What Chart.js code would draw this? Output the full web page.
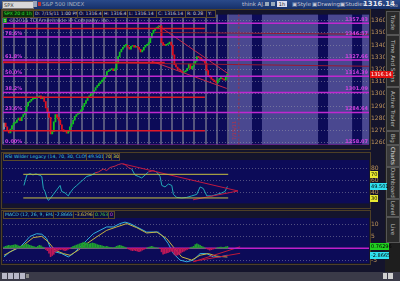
<!DOCTYPE html>
<html><head><meta charset="utf-8">
<script src="https://cdn.jsdelivr.net/npm/chart.js@4"></script>
<style>
html,body{margin:0;padding:0;background:#14142c;width:400px;height:281px;overflow:hidden;font-family:"DejaVu Sans",sans-serif;}
#wrap{position:relative;width:400px;height:281px;}
.a{position:absolute;white-space:nowrap;}
canvas{position:absolute;left:0;}
.tb{font-size:5.5px;line-height:7px;color:#c8c8d8;}
.box{position:absolute;top:10px;height:6px;border:1px solid #5a4a2a;background:#0c0c40;font-size:4.6px;line-height:6px;color:#d0d0d0;padding:0 1px;box-sizing:content-box;white-space:nowrap;overflow:hidden;}
.tab{position:absolute;left:386px;width:12px;background:#2a2a2a;border:1px solid #555;color:#bdbdbd;font-size:5.5px;writing-mode:vertical-rl;text-align:center;line-height:12px;overflow:hidden;}
.frame{position:absolute;border:1px solid #4e3f26;box-sizing:border-box;}
.hdr{position:absolute;height:6px;border:1px solid #5a4a2a;background:#0c0c40;font-size:4.6px;line-height:6px;padding:0 1px;white-space:nowrap;overflow:hidden;}
</style></head><body><div id="wrap">
<!-- top toolbar -->
<div class="a" style="left:0;top:0;width:400px;height:9px;background:linear-gradient(#2a4a8a,#16306a);"></div>
<div class="a" style="left:2px;top:1px;width:29px;height:6px;background:#d8d8d8;border:1px solid #777;font-size:5px;line-height:6px;color:#333;padding-left:1px;">SPX</div>
<div class="a" style="left:33px;top:1px;width:4px;height:6px;background:#9aa4b8;"></div>
<div class="a" style="left:38px;top:2px;width:3px;height:4px;background:#c03030;"></div>
<div class="a tb" style="left:42px;top:1px;color:#a8b0c0;">S&amp;P 500 INDEX</div>
<div class="a tb" style="left:242px;top:1px;">think AJ.</div>
<div class="a" style="left:265px;top:2px;width:4px;height:4px;background:#9ab;"></div>
<div class="a" style="left:271px;top:2px;width:4px;height:4px;background:#9ab;"></div>
<div class="a" style="left:277px;top:1px;width:10px;height:6px;background:#dde;font-size:5px;line-height:6px;color:#222;text-align:center;">1h</div>
<div class="a tb" style="left:292px;top:1px;">▣Style</div>
<div class="a tb" style="left:312px;top:1px;">▣Drawings</div>
<div class="a tb" style="left:340px;top:1px;">▣Studies</div>
<div class="a" style="left:363px;top:0px;font-size:7px;line-height:9px;font-weight:bold;color:#e8e8f0;">1316.14</div>
<div class="a" style="left:390px;top:0px;font-size:3.5px;line-height:4px;color:#ccc;">0<br>0.00</div>

<!-- right tab strip -->
<div class="a" style="left:385px;top:9px;width:15px;height:263px;background:#1e1e1e;"></div>
<div class="tab" style="top:11px;height:22px;">Trade</div>
<div class="tab" style="top:35px;height:50px;">Time And Sales</div>
<div class="tab" style="top:87px;height:42px;">Active Trader</div>
<div class="tab" style="top:131px;height:12px;">Big Buttons</div>
<div class="tab" style="top:145px;height:20px;background:#3a3a3a;color:#e0e0e0;">Charts</div>
<div class="tab" style="top:167px;height:30px;">Dashboard</div>
<div class="tab" style="top:199px;height:16px;">Level II</div>
<div class="tab" style="top:217px;height:24px;">Live News</div>

<!-- panel frames -->
<div class="frame" style="left:1px;top:9px;width:370px;height:141px;"></div>
<div class="frame" style="left:1px;top:152px;width:370px;height:57px;"></div>
<div class="frame" style="left:1px;top:210px;width:370px;height:55px;"></div>

<canvas id="cPrice" width="400" height="141" style="top:9px"></canvas>
<canvas id="cRsi" width="400" height="59" style="top:150px"></canvas>
<canvas id="cMacd" width="400" height="63" style="top:209px"></canvas>

<!-- info row -->
<div class="box" style="left:2px;width:28px;color:#30e030;background:#0a300a;">SPX 20 d 1h</div>
<div class="box" style="left:33px;width:41px;">D: 7/15/11 1:00 PM</div>
<div class="box" style="left:77px;width:22px;">O: 1316.4</div>
<div class="box" style="left:102px;width:22px;">H: 1316.4</div>
<div class="box" style="left:127px;width:26px;">L: 1316.14</div>
<div class="box" style="left:156px;width:26px;">C: 1316.14</div>
<div class="box" style="left:185px;width:18px;">R: 0.28</div>
<div class="box" style="left:206px;width:6px;">Y:</div>
<div class="a" style="left:3px;top:18px;width:4px;height:5px;background:#1a9a1a;color:#fff;font-size:4px;line-height:5px;text-align:center;">1</div>
<div class="a" style="left:9px;top:17px;font-size:5px;line-height:7px;color:#9a9ab0;">© 2011 TD Ameritrade IP Company, Inc.</div>

<!-- study headers -->
<div class="hdr" style="left:3px;top:153px;width:80px;color:#40c8e0;">RSI Wilder Legacy (14, 70, 30, CLOSE)</div>
<div class="hdr" style="left:86px;top:153px;width:14px;color:#40c8e0;">49.501</div>
<div class="hdr" style="left:103px;top:153px;width:5px;color:#e0e040;">70</div>
<div class="hdr" style="left:111px;top:153px;width:5px;color:#e0e040;">30</div>
<div class="hdr" style="left:3px;top:211px;width:47px;color:#40c8e0;">MACD (12, 26, 9, EMA)</div>
<div class="hdr" style="left:53px;top:211px;width:17px;color:#40c8e0;">-2.8665</div>
<div class="hdr" style="left:73px;top:211px;width:17px;color:#d8c840;">-3.6296</div>
<div class="hdr" style="left:93px;top:211px;width:12px;color:#40d040;">0.763</div>
<div class="hdr" style="left:108px;top:211px;width:3px;color:#d040d0;">0</div>

<!-- bottom bar -->
<div class="a" style="left:0;top:272px;width:400px;height:9px;background:#3a3a48;"></div>
<div class="a" style="left:2px;top:273px;width:5px;height:6px;background:#b8b8c8;"></div>
<div class="a" style="left:8px;top:273px;width:5px;height:6px;background:#b8b8c8;"></div>
<div class="a" style="left:14px;top:273px;width:5px;height:6px;background:#b8b8c8;"></div>
<div class="a" style="left:20px;top:273px;width:5px;height:6px;background:#b8b8c8;"></div>
<div class="a" style="left:26px;top:274px;width:3px;height:4px;background:#888;"></div>
<div class="a" style="left:383px;top:273px;width:4px;height:6px;background:#d0d0d0;"></div>
<div class="a" style="left:388px;top:273px;width:5px;height:6px;background:#d0d0d0;"></div>
</div>
<script>
// ---------- DATA ----------
const closes = [
 1276,1273,1270,1268,1271,1274,1276,
 1276.5,1278.5,1280,1278,1281,1283,1285.5,
 1290,1293,1294,1295.5,1296,1296,1297,
 1297.5,1298.3,1296,1297.5,1293.7,1288.4,1285.3,
 1280.7,1267,1269,1277,1283,1280.7,1278.4,
 1274.6,1270.7,1269.2,1270,1267.7,1269.2,1273,
 1275.3,1278.4,1281.5,1283,1283.8,1285.3,1286.8,
 1289.9,1292.2,1294.5,1296.8,1298.3,1299.8,1300.6,
 1302.9,1305.2,1306.7,1308.3,1309.8,1311.3,1312.9,
 1315.2,1318.2,1319,1319.8,1320.5,1319,1320.5,
 1325.1,1330.5,1334.3,1336.6,1338.2,1339.7,1339.7,
 1338.2,1336.6,1339,1339.7,1338.2,1339,1338.2,
 1336.6,1334.3,1335.8,1338.2,1339.7,1340.5,1342,
 1345.8,1349.7,1352,1353.5,1354.3,1355,1355.8,
 1342,1340,1339.7,1340.5,1341,1342.5,1340,
 1332,1324,1322,1320.5,1319.5,1318.5,1317.5,
 1318,1319,1321,1324.4,1320.5,1322.5,1325,
 1326.7,1330.5,1330,1329,1327.5,1326.7,1325.1,
 1319,1315,1313.6,1312,1311.3,1310,1309,
 1311.3,1312.5,1312.9,1312,1311.3,1313.6,1316.14
];
const firstOpen = 1271;
const priceTicks = [1260,1270,1280,1290,1300,1310,1320,1330,1340,1350,1360];
const fibValues = [1357.83,1346.57,1327.66,1314.39,1301.09,1284.64,1258.07];
const fibPct = ["","78.6%","61.8%","50.0%","38.2%","23.6%","0.00%"];
const fibText = ["1357.83","1346.57","1327.66","1314.39","1301.09","1284.64","1258.07"];
// horizontal drawn levels: [fromIdx, toIdx, value]
const redLevels = [[-1,125,1353.5],[-1,100,1325.6],[-1,125,1297.2],[-1,125,1269.8]];
// trend lines: [[idx,value],[idx,value]]
const priceTrends = [[[96,1356],[139.5,1316.5]],[[91.9,1326.7],[138.6,1304.4]],[[94,1350.4],[227,1348.9]],[[-1,1326.5],[227,1322.6]]];
const dayLabels = ["Mon","Wed","Fri","Tue","Thu","Tue","Thu","Mon","Wed","Fri","Sun","Tue","Wed","Thu"];
const dayLabelIdx = [8.1,22.4,35.5,49.8,63.5,77.8,92.7,106.4,121.3,133.8,147.5,171.8,192.3,213.4];
const futureLight = [[139.5,154.3],[160.5,195.4],[201.6,216.6],[222.8,227.2]];

const rsiPoints = [[12.4,51.2],[14.2,68.8],[16.2,71],[18,69],[19.9,70.6],[22.4,68.3],[23.5,66.4],[24.5,46],[25.5,41],[26.6,30.9],[27.6,25.9],[28.6,28.5],[30.7,36],[32.8,43.6],[34.9,51.2],[35.9,41],[38,38.5],[40,33.5],[41.1,38.5],[43.1,46],[45.3,51.2],[47.3,56.2],[49.4,61.2],[51.5,66.4],[54.6,68.8],[56.6,72.4],[58.7,73.9],[61.8,78.9],[63.9,76.4],[66,81.5],[69.1,83.9],[71.1,86.5],[73.3,88],[75.3,86.5],[77.4,81.5],[79.5,78.9],[81.5,68.8],[83.6,66.4],[85.7,63.8],[87.8,68.8],[89.8,73.9],[92.9,76.4],[95,73.9],[97.1,66.4],[98.2,51.2],[100.2,48.6],[102.3,53.6],[104.4,51.2],[105.4,36],[107.5,30.9],[110.6,30],[113.7,30.9],[116.8,33.5],[119.9,36],[122,48.6],[124,46],[126.2,33.5],[129.3,33.5],[132.4,36],[135.5,38.5],[137.5,41],[139,49.5]];
const rsiTrends = [[[74,87.6],[145.6,41.8]],[[117.6,26.9],[145.6,41.8]]];

const macdPoints = [[0,-3.6],[3.7,-1.5],[10,0.5],[13.1,2.6],[16.2,4.9],[20.3,6],[23.5,5.8],[26.6,4],[28.6,0.5],[31.7,-1.5],[35.9,-2.2],[40,-3.6],[43.1,-2.2],[47.3,0.5],[51.5,3.3],[55.6,6],[59.7,7.4],[63.9,8.8],[68,8.8],[72.2,10.2],[75.3,10.8],[78.4,10.2],[82.6,8.8],[88.8,6.7],[92.9,6.7],[96,6.7],[99.1,4.7],[102.2,1.9],[105.4,-2.2],[109.5,-4.9],[113.7,-5.6],[117.8,-4.9],[122,-2.2],[126.1,-2.2],[130.2,-3.6],[134.4,-3.6],[139,-2.87]];
const signalPoints = [[0,-2.9],[5.8,-0.8],[12,1.2],[18.2,4.4],[23.5,4.9],[27.6,2.6],[31.7,-0.8],[36.9,-2.2],[41.1,-2.9],[46.2,-0.8],[51.5,1.9],[57.7,4.7],[63.9,7.4],[70.1,8.8],[76.4,10.2],[82.6,8.5],[88.8,6.3],[95,6.7],[101.2,4],[105.4,0.5],[110.6,-3.6],[116.8,-4.9],[122,-2.9],[127.1,-2.2],[132.4,-3.3],[139,-3.63]];
const histValues = [
 0.5,0.8,1,1.2,1,1.2,1.3, 1.5,1.3,1,0.8,1,1.2,1.5, 1.8,1.5,1.2,1,0.8,0.6,0.4, 0.8,1.2,1,0.5,0.2,-0.5,-1,
 -2,-3.5,-3,-2.5,-1.5,-1,-0.8, -0.6,-0.5,-0.8,-1,-0.8,-0.4,-0.2, 0.4,0.8,1,1.3,1.5,1.8,2, 2.3,2.5,2.2,2,1.8,2,2.2,
 2,1.8,1.5,1.3,1.2,1,0.8, 0.6,0.8,0.5,0.4,0.3,0.2,0.4, 0.8,1,1.2,1,0.8,0.5,0.3, -0.2,-0.5,-0.8,-1,-0.8,-1,-1.2,
 -1.4,-1.2,-0.8,-0.5,-0.2,0.2,0.4, 0.6,0.8,0.5,0.3,0.2,0.1,-0.2, -1.5,-2.5,-2.2,-2,-1.8,-1.5,-1.2, -1.5,-2.5,-3,-2.8,-2.5,-2,-1.5,
 -1.2,-0.8,-0.5,-0.2,0.3,0.5,0.8, 1.5,1.8,1.5,1.2,0.8,0.5,0.2, -0.2,-0.5,-0.8,-0.6,-0.4,-0.2,0.1, 0.3,0.4,0.5,0.3,0.4,0.6,0.76
];
const macdTrends = [[[117.8,-5.6],[146.9,0.6]],[[117.8,-5.4],[146.9,-2.1]]];

// ---------- SETUP ----------
const XMIN = -0.62, XMAX = 227.1;
const NAVY = '#0c0b58', LAV = '#4a4890', SEP = '#55557e';
const TAN = '#c0955a';
const opens = closes.map((c,i)=> i===0 ? firstOpen : closes[i-1]);
const seg = (pts)=>pts.map(p=>({x:p[0],y:p[1]}));
const lineDs = (pts,color,w,extra)=>Object.assign({type:'line',data:seg(pts),borderColor:color,borderWidth:w,pointRadius:0,tension:0,fill:false},extra||{});
const fixedWidth = w => function(s){ s.width = w; };
const fixedHeight = h => function(s){ s.height = h; };
const font6 = {family:'DejaVu Sans',size:6};
const plainTick = v => String(v);

function bgPlugin(opts){
  return {id:'bg'+Math.floor(Math.random()*1e6),beforeDraw(chart){
    const {ctx,chartArea:a,scales:{x}} = chart;
    ctx.save();
    ctx.fillStyle = NAVY; ctx.fillRect(a.left,a.top,a.right-a.left,a.bottom-a.top);
    if(opts.future){
      ctx.fillStyle = LAV;
      futureLight.forEach(r=>{const x0=x.getPixelForValue(r[0]),x1=x.getPixelForValue(r[1]);ctx.fillRect(x0,a.top,x1-x0,a.bottom-a.top);});
      ctx.fillStyle = SEP;
      for(let k=0;k<=20;k++){const px=x.getPixelForValue(7*k-0.5);ctx.fillRect(Math.round(px)-1,a.top,2,a.bottom-a.top);}
    }
    ctx.restore();
  }};
}
function tagPlugin(tags){
  return {id:'tag'+Math.floor(Math.random()*1e6),afterDraw(chart){
    const {ctx,chartArea:a,scales:{y}} = chart;
    ctx.save(); ctx.font = '5px DejaVu Sans'; ctx.textBaseline='middle';
    tags.forEach(t=>{const py=Math.round(y.getPixelForValue(t.v));
      ctx.fillStyle=t.bg; ctx.fillRect(a.right+1,py-3,t.w,7);
      ctx.fillStyle=t.fg; ctx.fillText(t.text,a.right+2,py+0.5);});
    ctx.restore();
  }};
}
const fibLabelPlugin = {id:'fibLabels',afterDatasetsDraw(chart){
  const {ctx,chartArea:a,scales:{y,x}} = chart;
  ctx.save(); ctx.font='bold 5px DejaVu Sans'; ctx.fillStyle='#d040e0'; ctx.textBaseline='bottom';
  fibValues.forEach((v,i)=>{const py=y.getPixelForValue(v);
    ctx.textAlign='left'; if(fibPct[i]) ctx.fillText(fibPct[i],a.left+2,py-1);
    ctx.textAlign='right'; ctx.fillText(fibText[i],a.right-1,py-1);});
  const vx = x.getPixelForValue(145.8);
  ctx.strokeStyle='#a03040'; ctx.setLineDash([2,2]); ctx.lineWidth=1;
  ctx.beginPath(); ctx.moveTo(vx+0.5,a.top); ctx.lineTo(vx+0.5,a.bottom); ctx.stroke();
  ctx.setLineDash([]);
  ctx.translate(vx-1,y.getPixelForValue(1262)); ctx.rotate(-Math.PI/2);
  ctx.font='5px DejaVu Sans'; ctx.fillStyle='#c03040'; ctx.textAlign='left'; ctx.textBaseline='bottom';
  ctx.fillText('7/15/11',0,0);
  ctx.restore();
}};
const xScale = {type:'linear',min:XMIN,max:XMAX,display:false,offset:false};

// ---------- PRICE ----------
const priceDatasets = [];
fibValues.forEach(v=>priceDatasets.push(lineDs([[XMIN,v],[XMAX,v]],'#c028d0',1.5)));
redLevels.forEach(l=>priceDatasets.push(lineDs([[l[0],l[2]],[l[1],l[2]]],'#e01828',1.5)));
priceTrends.forEach((t,i)=>priceDatasets.push(lineDs(t, i<2?'#c82848':'#9a1830',1)));
priceDatasets.push({type:'bar',data:closes.map((c,i)=>({x:i,y:[opens[i],c]})),
  backgroundColor:closes.map((c,i)=> i===0?'#9a9a9a':(c>=opens[i]?'#10c020':'#e01020')),
  barThickness:1.2,minBarLength:1,grouped:false});

new Chart(document.getElementById('cPrice'),{
  data:{datasets:priceDatasets},
  options:{responsive:false,animation:false,events:[],
    layout:{padding:{left:3,top:1,bottom:1,right:15}},
    plugins:{legend:{display:false},tooltip:{enabled:false}},
    scales:{
      x:xScale,
      y:{position:'right',min:1258.5,max:1365,afterFit:fixedWidth(16),
         afterBuildTicks:s=>{s.ticks=priceTicks.map(v=>({value:v}));},
         ticks:{font:font6,color:TAN,padding:2,callback:plainTick},
         grid:{color:'rgba(150,150,170,0.55)',drawTicks:false},border:{display:false,dash:[1,2]}}
    }},
  plugins:[bgPlugin({future:true}),fibLabelPlugin,tagPlugin([{v:1316.14,text:'1316.14',bg:'#e01010',fg:'#ffffff',w:23}])]
});

// ---------- RSI ----------
new Chart(document.getElementById('cRsi'),{
  data:{datasets:[
    lineDs([[12,70],[139.5,70]],'#c8c040',1),
    lineDs([[12,30],[139.5,30]],'#c8c040',1),
    ...rsiTrends.map(t=>lineDs(t,'#c01840',1)),
    lineDs(rsiPoints,'#22a8b8',1,{segment:{borderColor:c=>(c.p0.parsed.y>=70&&c.p1.parsed.y>=70)?'#c02848':undefined}})
  ]},
  options:{responsive:false,animation:false,events:[],
    layout:{padding:{left:3,top:10,bottom:1,right:15}},
    plugins:{legend:{display:false},tooltip:{enabled:false}},
    scales:{
      x:xScale,
      y:{position:'right',min:20.8,max:94.2,afterFit:fixedWidth(16),
         afterBuildTicks:s=>{s.ticks=[40,60,80].map(v=>({value:v}));},
         ticks:{font:font6,color:TAN,padding:2,callback:plainTick},
         grid:{color:'rgba(150,150,170,0.5)',drawTicks:false},border:{display:false,dash:[1,2]}}
    }},
  plugins:[bgPlugin({}),tagPlugin([{v:70,text:'70',bg:'#e8e830',fg:'#000',w:8},{v:30,text:'30',bg:'#e8e830',fg:'#000',w:8},{v:49.501,text:'49.501',bg:'#30e0f0',fg:'#000',w:17}])]
});

// ---------- MACD ----------
new Chart(document.getElementById('cMacd'),{
  data:{datasets:[
    {type:'bar',data:histValues.map((v,i)=>({x:i,y:v})),backgroundColor:histValues.map(v=>v>=0?'#20a030':'#c01858'),barThickness:1,grouped:false},
    lineDs([[XMIN,0],[XMAX,0]],'#c020c8',1.5),
    ...macdTrends.map(t=>lineDs(t,'#c01838',1)),
    lineDs(signalPoints,'#c8b440',1),
    lineDs(macdPoints,'#30b0e0',1)
  ]},
  options:{responsive:false,animation:false,events:[],
    layout:{padding:{left:3,top:9,bottom:0,right:15}},
    plugins:{legend:{display:false},tooltip:{enabled:false}},
    scales:{
      x:{type:'linear',min:XMIN,max:XMAX,offset:false,afterFit:fixedHeight(9),
         afterBuildTicks:s=>{s.ticks=dayLabelIdx.map(v=>({value:v}));},
         ticks:{font:font6,color:'#a8a8b0',padding:1,autoSkip:false,maxRotation:0,callback:(v,i)=>dayLabels[i]},
         grid:{display:false},border:{display:false}},
      y:{position:'right',min:-6.1,max:12.5,afterFit:fixedWidth(16),
         afterBuildTicks:s=>{s.ticks=[-5,5,10].map(v=>({value:v}));},
         ticks:{font:font6,color:TAN,padding:2,callback:plainTick},
         grid:{color:'rgba(150,150,170,0.5)',drawTicks:false},border:{display:false,dash:[1,2]}}
    }},
  plugins:[bgPlugin({}),tagPlugin([{v:0.76296,text:'0.76296',bg:'#20d020',fg:'#000',w:19},{v:-2.8665,text:'-2.8665',bg:'#30e0f0',fg:'#000',w:19}])]
});
</script></body></html>
